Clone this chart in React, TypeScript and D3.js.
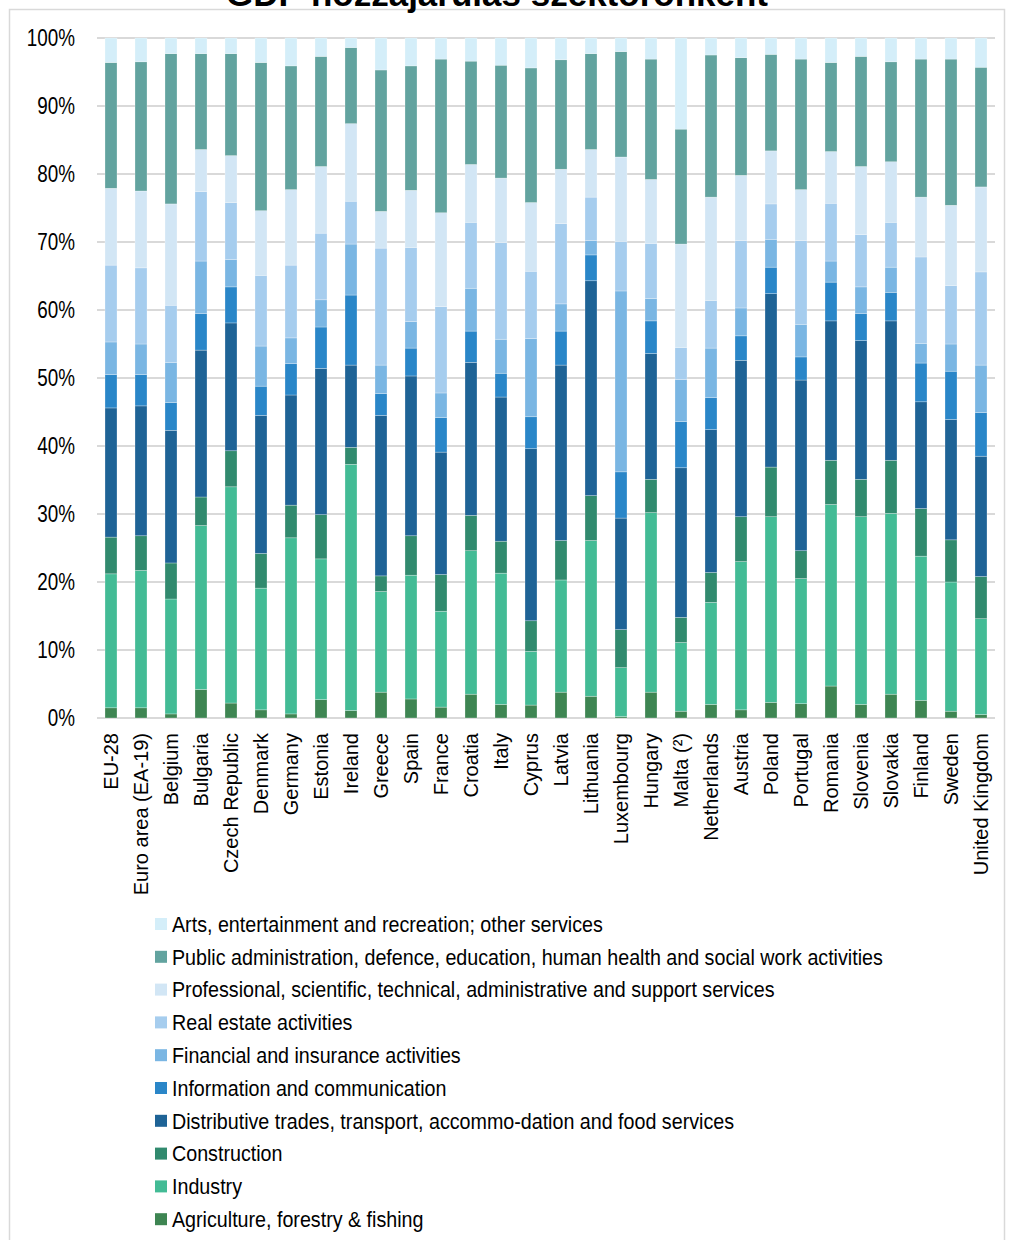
import React from "react";
import * as d3 from "d3";

const countries = [
  "EU-28", "Euro area (EA-19)", "Belgium", "Bulgaria", "Czech Republic", "Denmark", "Germany", "Estonia",
  "Ireland", "Greece", "Spain", "France", "Croatia", "Italy", "Cyprus", "Latvia", "Lithuania", "Luxembourg",
  "Hungary", "Malta (²)", "Netherlands", "Austria", "Poland", "Portugal", "Romania", "Slovenia", "Slovakia",
  "Finland", "Sweden", "United Kingdom",
];

// bottom-to-top series values (% of GDP)
const agriculture = [1.5, 1.5, 0.6, 4.2, 2.2, 1.2, 0.6, 2.7, 1.1, 3.8, 2.8, 1.6, 3.5, 2.0, 1.9, 3.8, 3.2, 0.2, 3.8, 1.0, 2.0, 1.2, 2.3, 2.1, 4.7, 2.0, 3.5, 2.6, 1.0, 0.5];
const industry = [19.7, 20.2, 16.9, 24.1, 31.8, 17.9, 25.9, 20.7, 36.2, 14.8, 18.2, 14.1, 21.1, 19.3, 7.9, 16.5, 22.9, 7.2, 26.4, 10.1, 15.0, 21.8, 27.3, 18.4, 26.7, 27.6, 26.6, 21.2, 19.0, 14.1];
const construction = [5.4, 5.1, 5.3, 4.2, 5.3, 5.1, 4.8, 6.5, 2.5, 2.3, 5.8, 5.4, 5.2, 4.7, 4.5, 5.8, 6.6, 5.6, 4.9, 3.7, 4.4, 6.6, 7.3, 4.1, 6.5, 5.5, 7.8, 7.0, 6.2, 6.2];
const distributive = [19.0, 19.1, 19.5, 21.6, 18.8, 20.3, 16.2, 21.5, 12.1, 23.6, 23.5, 18.0, 22.5, 21.2, 25.3, 25.8, 31.6, 16.4, 18.5, 22.0, 21.0, 23.0, 25.5, 25.1, 20.5, 20.4, 20.5, 15.7, 17.7, 17.7];
const information = [4.9, 4.6, 4.1, 5.4, 5.3, 4.3, 4.6, 6.1, 10.3, 3.2, 4.1, 5.1, 4.6, 3.5, 4.7, 5.0, 3.8, 6.8, 4.8, 6.8, 4.7, 3.6, 3.9, 3.4, 5.7, 4.0, 4.2, 5.7, 7.1, 6.4];
const financial = [4.8, 4.5, 5.9, 7.7, 4.0, 5.9, 3.8, 4.0, 7.5, 4.2, 3.9, 3.6, 6.3, 5.0, 11.5, 4.0, 2.1, 26.6, 3.3, 6.2, 7.3, 4.1, 4.1, 4.8, 3.1, 3.9, 3.7, 2.9, 4.0, 7.0];
const realEstate = [11.3, 11.2, 8.4, 10.2, 8.4, 10.4, 10.7, 9.8, 6.3, 17.2, 10.9, 12.7, 9.7, 14.2, 9.9, 11.8, 6.4, 7.3, 8.1, 4.7, 7.0, 9.9, 5.2, 12.3, 8.5, 7.7, 6.6, 12.7, 8.6, 13.7];
const professional = [11.3, 11.3, 14.9, 6.2, 6.9, 9.5, 11.1, 9.8, 11.4, 5.4, 8.4, 13.8, 8.5, 9.5, 10.1, 8.0, 7.0, 12.4, 9.4, 15.2, 15.2, 9.6, 7.8, 7.5, 7.6, 10.0, 8.9, 8.8, 11.8, 12.5];
const publicAdmin = [18.5, 19.0, 22.1, 14.1, 15.0, 21.8, 18.2, 16.2, 11.2, 20.8, 18.3, 22.6, 15.2, 16.6, 19.8, 16.1, 14.1, 15.5, 17.7, 16.9, 20.9, 17.3, 14.2, 19.2, 13.1, 16.2, 14.7, 20.3, 21.5, 17.6];
const arts = [3.6, 3.5, 2.3, 2.3, 2.3, 3.6, 4.1, 2.7, 1.4, 4.7, 4.1, 3.1, 3.4, 4.0, 4.4, 3.2, 2.3, 2.0, 3.1, 13.4, 2.5, 2.9, 2.4, 3.1, 3.6, 2.7, 3.5, 3.1, 3.1, 4.3];

const seriesNames = [
  "Agriculture, forestry & fishing",
  "Industry",
  "Construction",
  "Distributive trades, transport, accommo-dation and food services",
  "Information and communication",
  "Financial and insurance activities",
  "Real estate activities",
  "Professional, scientific, technical, administrative and support services",
  "Public administration, defence, education, human health and social work activities",
  "Arts, entertainment and recreation; other services",
];
const seriesValues = [agriculture, industry, construction, distributive, information, financial, realEstate, professional, publicAdmin, arts];
const seriesColors = ["#3e8552", "#43bb95", "#318a6e", "#1e6396", "#2a86c8", "#7ab6e3", "#a6cdee", "#d2e6f5", "#62a39f", "#d4eef9"];
const yTicks = [0, 10, 20, 30, 40, 50, 60, 70, 80, 90, 100];
const title = "GDP hozzájárulás szektoronként";

const REG = "'Liberation Sans', Arial, sans-serif";

export default function App() {
  const W = 1013, H = 1240;
  const x = d3.scaleBand<string>().domain(countries).range([96, 996]).paddingInner(0.6).paddingOuter(0.3);
  const y = d3.scaleLinear().domain([0, 100]).range([718, 38]);

  const table = countries.map((c, i) => {
    const row: Record<string, number | string> = { country: c };
    seriesNames.forEach((s, k) => (row[s] = seriesValues[k][i]));
    return row;
  });
  const stacked = d3.stack<any>().keys(seriesNames)(table);

  const legendOrder = [...seriesNames.keys()].reverse();

  return (
    <svg width={W} height={H} style={{ display: "block", position: "absolute", left: 0, top: 0 }}>
      <rect x={0} y={0} width={W} height={H} fill="#fff" />
      <rect x={9.5} y={9.5} width={995} height={1240} fill="none" stroke="#d9d9d9" strokeWidth={1.5} />
      <text x={497} y={6} textAnchor="middle" fontFamily={REG} fontWeight="bold" fontSize={35} fill="#000">{title}</text>
      {yTicks.map((t) => (
        <g key={t}>
          <line x1={97} x2={995} y1={y(t)} y2={y(t)} stroke="#d9d9d9" strokeWidth={2} />
          <text transform={`translate(75,${y(t)}) scale(0.82,1)`} dy="0.35em" textAnchor="end" fontFamily={REG} fontSize={23} fill="#000">{t}%</text>
        </g>
      ))}
      {stacked.map((layer, k) => (
        <g key={k} fill={seriesColors[k]}>
          {layer.map((d, i) => (
            <rect key={i} x={x(countries[i])} width={x.bandwidth()} y={y(d[1])} height={Math.max(0, y(d[0]) - y(d[1]))}
              stroke="#ffffff" strokeOpacity={0.45} strokeWidth={0.6} />
          ))}
        </g>
      ))}
      {countries.map((c) => (
        <text key={c} transform={`translate(${(x(c) as number) + x.bandwidth() / 2 + 7},733) rotate(-90)`}
          textAnchor="end" fontFamily={REG} fontSize={20} fill="#000">{c}</text>
      ))}
      {legendOrder.map((k, j) => {
        const cy = 924 + j * 32.8;
        return (
          <g key={k}>
            <rect x={155} y={cy - 6} width={12} height={12} fill={seriesColors[k]} />
            <text transform={`translate(172,${cy}) scale(0.875,1)`} dy="0.35em" fontFamily={REG} fontSize={22.5} fill="#000">{seriesNames[k]}</text>
          </g>
        );
      })}
    </svg>
  );
}
